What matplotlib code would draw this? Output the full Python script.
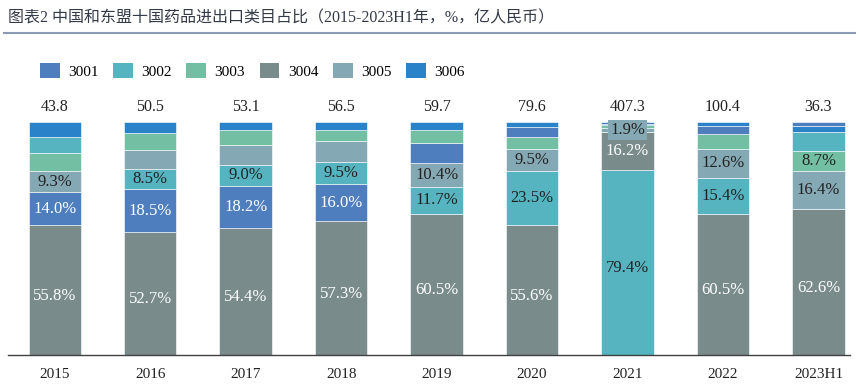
import numpy as np
import matplotlib
matplotlib.use("Agg")
import matplotlib.pyplot as plt
from matplotlib.patches import Patch

years = ["2015", "2016", "2017", "2018", "2019", "2020", "2021", "2022", "2023H1"]
totals = [43.8, 50.5, 53.1, 56.5, 59.7, 79.6, 407.3, 100.4, 36.3]
codes = ["3001", "3002", "3003", "3004", "3005", "3006"]

# share of each category per year (%); labelled values, the rest estimated
s3001 = [14.0, 18.5, 18.2, 16.0, 8.3, 4.6, 0.7, 3.4, 1.7]
s3002 = [7.0, 8.5, 9.0, 9.5, 11.7, 23.5, 79.4, 15.4, 8.2]
s3003 = [7.5, 7.4, 6.4, 4.8, 5.6, 4.8, 1.0, 6.4, 8.7]
s3004 = [55.8, 52.7, 54.4, 57.3, 60.5, 55.6, 16.2, 60.5, 62.6]
s3005 = [9.3, 8.3, 8.5, 9.0, 10.4, 9.5, 1.9, 12.6, 16.4]
s3006 = [6.4, 4.6, 3.5, 3.4, 3.5, 2.0, 0.8, 1.7, 2.4]

colors = {"3001": "#4e7ebd", "3002": "#55b4c0", "3003": "#72bfa4",
          "3004": "#7a8b8c", "3005": "#84a9b4", "3006": "#2a82c8"}
label_color = {"3001": "white", "3002": "#222222", "3003": "#222222",
               "3004": "white", "3005": "#222222", "3006": "white"}

shares = np.array([s3001, s3002, s3003, s3004, s3005, s3006])

plt.rcParams["font.family"] = ["Liberation Serif", "Noto Sans CJK SC"]

fig = plt.figure(figsize=(8.59, 3.85), dpi=100)
ax = fig.add_axes([8 / 859, 30 / 385, 842 / 859, 233 / 385])

x = np.arange(len(years))
for i in range(len(years)):
    order = np.argsort(-shares[:, i], kind="stable")
    bottom = 0.0
    for rank, k in enumerate(order):
        v = shares[k, i]
        c = codes[k]
        ax.bar(x[i], v, bottom=bottom, width=0.55, color=colors[c],
               edgecolor="white", linewidth=0.4)
        if rank < 3:
            yl = bottom + v / 2 - (2.5 if rank == 0 else 0)
            if v < 4:
                ax.text(x[i], yl, f"{v:.1f}%", ha="center", va="center",
                        fontsize=12, color=label_color[c],
                        bbox=dict(boxstyle="square,pad=0.1", fc=colors[c], ec="none"))
            else:
                ax.text(x[i], yl, f"{v:.1f}%", ha="center", va="center",
                        fontsize=12, color=label_color[c])
        bottom += v
    ax.annotate(f"{totals[i]}", (x[i], 100), xytext=(0, 5), textcoords="offset points",
                ha="center", va="bottom", fontsize=11.5, color="#222222")

ax.set_xlim(-0.49, 8.33)
ax.set_ylim(0, 100)
ax.set_xticks(x)
ax.set_xticklabels(years, fontsize=11, color="#222222")
ax.tick_params(axis="x", length=0, pad=9)
ax.set_yticks([])
for side in ["left", "right", "top"]:
    ax.spines[side].set_visible(False)
ax.spines["bottom"].set_color("#404040")
ax.spines["bottom"].set_linewidth(1.0)

handles = [Patch(facecolor=colors[c], edgecolor="none") for c in codes]
fig.legend(handles, codes, loc="center left", bbox_to_anchor=(26 / 859, 1 - 71 / 385),
           ncol=6, frameon=False, fontsize=11, handlelength=1.3, handleheight=1.15,
           handletextpad=0.55, columnspacing=0.95)

fig.text(8 / 859, 1 - 18 / 385, "图表2 中国和东盟十国药品进出口类目占比（2015-2023H1年，%，亿人民币）",
         fontsize=11.5, color="#333a48", va="center", ha="left",
         family=["Liberation Serif", "Noto Sans CJK SC"])
fig.add_artist(plt.Line2D([0.005, 0.995], [1 - 33 / 385, 1 - 33 / 385],
                          color="#8a9bb3", linewidth=1.5))

fig.savefig("out.png", dpi=100)
